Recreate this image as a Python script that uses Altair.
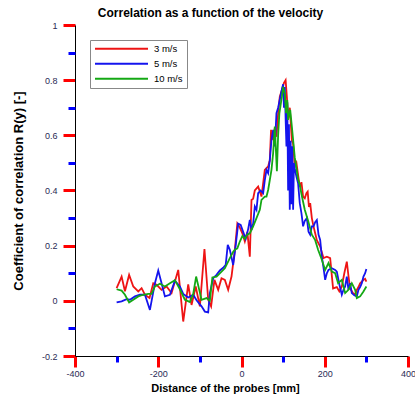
import altair as alt
import pandas as pd

# Probe distance [mm] and correlation coefficient R(y) for each flow velocity
SERIES = ["3 m/s", "5 m/s", "10 m/s"]
COLORS = ["#ee1414", "#1414ee", "#14a814"]

x_3 = [-300, -288, -280, -270, -260, -248, -240, -232, -221, -212, -204, -192, -180, -168,
       -152, -140, -128, -120, -110, -100, -89, -80, -73, -65, -56, -48, -40, -32, -24, -16,
       -10, -4, 2, 8, 14, 20, 24, 28, 32, 40, 48, 56, 64, 68, 71, 76, 80, 84, 88, 92, 97, 102,
       106, 109, 112, 116, 121, 124, 128, 132, 136, 140, 144, 148, 152, 156, 159, 162, 165,
       169, 173, 177, 181, 189, 197, 205, 213, 220, 229, 235, 241, 247, 253, 257, 261, 267,
       273, 277, 281, 285, 289, 293, 297, 300]
r_3 = [0.046, 0.088, 0.035, 0.094, 0.052, 0.034, 0.046, 0.022, 0.010, 0.064, 0.058, 0.040,
       0.052, 0.028, 0.112, -0.075, 0.060, -0.015, 0.052, -0.020, 0.188, 0.004, -0.020, 0.076,
       0.040, 0.082, 0.076, 0.040, 0.088, 0.185, 0.280, 0.265, 0.245, 0.215, 0.250, 0.160,
       0.366, 0.370, 0.400, 0.414, 0.378, 0.475, 0.487, 0.510, 0.620, 0.583, 0.626, 0.595,
       0.680, 0.740, 0.764, 0.790, 0.800, 0.740, 0.660, 0.700, 0.580, 0.570, 0.487, 0.500,
       0.456, 0.414, 0.430, 0.378, 0.372, 0.390, 0.396, 0.340, 0.354, 0.300, 0.270, 0.245,
       0.220, 0.197, 0.155, 0.160, 0.155, 0.045, 0.050, 0.034, 0.052, 0.100, 0.142, 0.090,
       0.045, 0.030, 0.022, 0.040, 0.050, 0.064, 0.070, 0.076, 0.080, 0.070]

x_5 = [-300, -288, -276, -268, -256, -244, -232, -220, -208, -200, -192, -184, -172, -160,
       -148, -140, -128, -116, -108, -96, -88, -80, -76, -68, -60, -52, -44, -38, -33, -28,
       -20, -14, -8, -2, 4, 10, 16, 20, 24, 28, 32, 36, 40, 46, 52, 56, 60, 64, 68, 72, 76,
       80, 84, 88, 92, 96, 100, 102, 104, 106, 108, 110, 112, 114, 116, 118, 120, 122, 124,
       126, 128, 132, 136, 140, 144, 148, 152, 157, 161, 165, 169, 173, 177, 181, 185, 189,
       193, 197, 201, 205, 209, 217, 225, 229, 235, 241, 245, 249, 253, 257, 261, 265, 271,
       277, 281, 285, 289, 293, 297, 300]
r_5 = [-0.006, -0.002, 0.006, 0.004, 0.016, 0.022, 0.022, -0.033, 0.064, 0.110, 0.064, 0.016,
       0.022, 0.073, 0.052, 0.025, 0.012, 0.022, 0.002, -0.020, -0.039, -0.042, 0.028, 0.082,
       0.094, 0.110, 0.120, 0.130, 0.203, 0.185, 0.130, 0.200, 0.280, 0.275, 0.250, 0.225,
       0.260, 0.293, 0.257, 0.280, 0.342, 0.330, 0.390, 0.400, 0.390, 0.438, 0.475, 0.463,
       0.510, 0.583, 0.620, 0.560, 0.680, 0.700, 0.730, 0.760, 0.785, 0.700, 0.775, 0.660,
       0.560, 0.720, 0.400, 0.640, 0.330, 0.580, 0.350, 0.560, 0.330, 0.500, 0.480, 0.450,
       0.426, 0.354, 0.318, 0.270, 0.290, 0.300, 0.251, 0.240, 0.270, 0.270, 0.285, 0.293,
       0.240, 0.221, 0.160, 0.120, 0.076, 0.100, 0.112, 0.118, 0.112, 0.106, 0.060, 0.022,
       0.040, 0.052, 0.088, 0.040, 0.064, 0.028, 0.020, 0.016, 0.040, 0.050, 0.064, 0.088,
       0.100, 0.115]

x_10 = [-300, -288, -280, -270, -260, -248, -236, -224, -216, -208, -196, -184, -172, -160,
        -148, -136, -124, -116, -109, -102, -96, -84, -76, -70, -60, -48, -40, -28, -20, -16,
        -10, -4, 2, 8, 14, 20, 28, 36, 44, 48, 56, 60, 64, 68, 72, 76, 80, 85, 88, 91, 97,
        100, 104, 107, 110, 112, 117, 121, 128, 136, 140, 145, 152, 160, 169, 177, 184, 193,
        201, 209, 217, 225, 232, 241, 249, 257, 265, 273, 277, 285, 293, 300]
r_10 = [0.042, 0.037, 0.022, -0.006, 0.004, 0.016, 0.022, 0.025, 0.025, 0.052, 0.062, 0.052,
        0.064, 0.075, 0.042, 0.004, -0.004, 0.025, 0.088, 0.043, 0.004, 0.010, 0.000, 0.085,
        0.088, 0.106, 0.118, 0.155, 0.178, 0.185, 0.190, 0.215, 0.235, 0.225, 0.240, 0.245,
        0.270, 0.300, 0.330, 0.366, 0.378, 0.378, 0.402, 0.438, 0.475, 0.535, 0.632, 0.470,
        0.600, 0.680, 0.740, 0.776, 0.752, 0.680, 0.728, 0.656, 0.692, 0.632, 0.520, 0.440,
        0.420, 0.380, 0.330, 0.290, 0.240, 0.220, 0.185, 0.149, 0.112, 0.137, 0.106, 0.100,
        0.064, 0.076, 0.028, 0.040, 0.064, 0.040, 0.010, 0.016, 0.034, 0.052]

X_MAJOR = [-400, -200, 0, 200, 400]
X_MINOR = [-300, -100, 100, 300]
Y_MAJOR = [-0.2, 0.0, 0.2, 0.4, 0.6, 0.8, 1.0]
Y_MINOR = [-0.1, 0.1, 0.3, 0.5, 0.7, 0.9]

frames = []
for name, xs, rs in zip(SERIES, [x_3, x_5, x_10], [r_3, r_5, r_10]):
    frames.append(pd.DataFrame({"distance": xs, "r": rs, "velocity": name}))
df = pd.concat(frames, ignore_index=True)

FONT = "Liberation Sans"
LABEL_COLOR = "#2a2a55"
X_SCALE = alt.Scale(domain=[-400, 400], nice=False)
Y_SCALE = alt.Scale(domain=[-0.2, 1.0], nice=False)

x_axis = alt.Axis(
    orient="bottom", values=X_MAJOR, labelExpr="'' + datum.value",
    tickSize=11, tickWidth=3, tickColor="red",
    domainColor="black", domainWidth=1, grid=False,
    labelFont=FONT, labelFontSize=9, labelColor=LABEL_COLOR, labelPadding=2,
    labelFlush=False, labelOverlap=False,
    title="Distance of the probes [mm]", titleFont=FONT, titleFontSize=11,
    titleFontWeight="bold", titleColor="black", titleX=150, titleY=35,
    titleBaseline="alphabetic",
)
y_axis = alt.Axis(
    orient="left", values=Y_MAJOR, labelExpr="'' + datum.value",
    tickSize=12, tickWidth=3, tickColor="red",
    domainColor="black", domainWidth=1, grid=False,
    labelFont=FONT, labelFontSize=9, labelColor=LABEL_COLOR, labelPadding=6,
    labelFlush=False, labelOverlap=False,
    title="Coefficient of correlation R(y)  [-]", titleFont=FONT, titleFontSize=13,
    titleFontWeight="bold", titleColor="black", titleX=-53, titleY=165.5,
    titleBaseline="alphabetic", titleAngle=270,
)

# Minor tick axes: ticks only, sharing the same scales
x_minor = alt.Axis(
    orient="bottom", values=X_MINOR, labels=False, domain=False, grid=False,
    tickSize=6, tickWidth=3, tickColor="blue", title=None,
)
y_minor = alt.Axis(
    orient="left", values=Y_MINOR, labels=False, domain=False, grid=False,
    tickSize=7, tickWidth=3, tickColor="blue", title=None,
)

lines = alt.Chart(df).mark_line(strokeWidth=1.8).encode(
    x=alt.X("distance:Q", scale=X_SCALE, axis=x_axis),
    y=alt.Y("r:Q", scale=Y_SCALE, axis=y_axis),
    color=alt.Color(
        "velocity:N",
        scale=alt.Scale(domain=SERIES, range=COLORS),
        legend=alt.Legend(
            title=None, orient="none", legendX=15, legendY=15,
            symbolType="stroke", symbolSize=2809, symbolStrokeWidth=2,
            clipHeight=9.5, rowPadding=4, padding=4,
            labelFont=FONT, labelFontSize=9.5, labelColor="black", labelOffset=5,
            strokeColor="#888888", fillColor="white",
        ),
    ),
)

minor = alt.Chart(df).mark_line(strokeOpacity=0).encode(
    x=alt.X("distance:Q", scale=X_SCALE, axis=x_minor),
    y=alt.Y("r:Q", scale=Y_SCALE, axis=y_minor),
)

chart = alt.layer(lines, minor).resolve_axis(
    x="independent", y="independent"
).properties(
    width=333,
    height=331,
    title=alt.Title(
        "Correlation as a function of the velocity",
        font=FONT, fontSize=12, fontWeight="bold", color="black",
        anchor="middle", dx=-31, dy=3,
    ),
    autosize=alt.AutoSizeParams(type="none"),
    padding={"left": 75, "top": 25, "right": 7, "bottom": 40},
).configure_view(stroke=None)

chart.save("out.html", embed_options={"renderer": "svg", "actions": False})
